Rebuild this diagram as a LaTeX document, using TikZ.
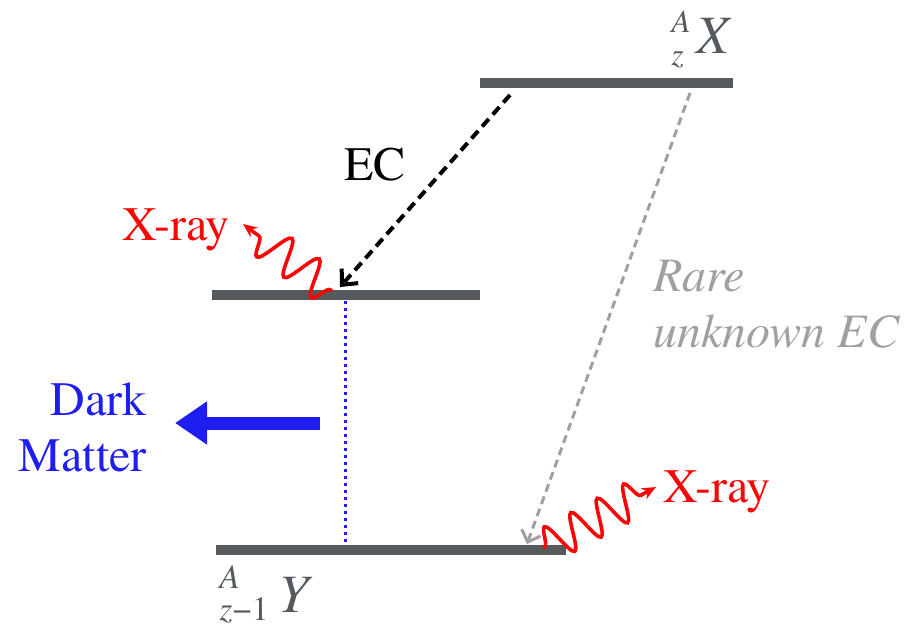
\documentclass[tikz,border=0pt]{standalone}
\usepackage{fontspec}
\setmainfont{texgyretermes}[Extension=.otf, UprightFont=*-regular,
  ItalicFont=*-italic, BoldFont=*-bold, BoldItalicFont=*-bolditalic]
\usetikzlibrary{arrows.meta,decorations.pathmorphing}
\definecolor{levelgray}{RGB}{85,90,95}
\definecolor{xrayred}{RGB}{250,5,5}
\definecolor{dmblue}{RGB}{30,30,240}
\definecolor{raregray}{RGB}{160,160,160}
% mass number over charge, then the element symbol
\newcommand{\nuclide}[5]{{\begin{tabular}[b]{@{}l@{}}\textit{#1}\\#2\end{tabular}}%
  \hspace{#5}\raisebox{#4}{\fontsize{27}{27}\selectfont\itshape #3}}

\begin{document}
\begin{tikzpicture}[x=0.5pt, y=-0.5pt,
    level/.style={line width=5pt, levelgray},
    nuc/.style={levelgray, anchor=base west, inner sep=0pt},
    xray/.style={xrayred, line width=1.8pt, -{Stealth[length=7pt,width=6pt]},
      decorate, decoration={snake, amplitude=9pt, segment length=17pt,
      pre length=1pt, post length=5pt}},
    lbl/.style={font=\fontsize{24}{28}\selectfont}]
\useasboundingbox (0,0) rectangle (910,629);

%% ── energy levels ──────────────────────────────────────────────
\coordinate (xl) at (480,83);  \coordinate (xr) at (733,83);
\coordinate (ml) at (212,295); \coordinate (mr) at (480,295);
\coordinate (yl) at (216,550); \coordinate (yr) at (566,550);
\draw[level] (xl) -- (xr);
\draw[level] (ml) -- (mr);
\draw[level] (yl) -- (yr);

% nuclide labels
\node[nuc, font=\fontsize{16}{16.5}\selectfont] (xname) at (671,65)
  {\nuclide{A}{\textit{z}}{X}{6pt}{3pt}};
\node[nuc, font=\fontsize{17}{14}\selectfont] (yname) at (219,620)
  {\nuclide{A}{\textit{z}−1}{Y}{4pt}{5pt}};

%% ── EC: X -> excited Y ─────────────────────────────────────────
\coordinate (ecstart) at (510,95);
\coordinate (ecend)   at (340,287);
\draw[line width=2pt, dash pattern=on 5pt off 3pt,
      -{Straight Barb[length=6pt,width=11pt]}] (ecstart) -- (ecend);
\node[lbl] (eclabel) at (375,165) {EC};

% X-ray from the middle level
\coordinate (xray1s) at (332,291);
\coordinate (xray1e) at (243,224);
\draw[xray] (xray1s) -- (xray1e);
\node[lbl, xrayred] (xray1) at (176,230) {X-ray};

%% ── dark matter transition ─────────────────────────────────────
\coordinate (dmtop) at (345,301);
\coordinate (dmbot) at (345,545);
\draw[dmblue, line width=1.5pt, dash pattern=on 1.5pt off 2pt] (dmtop) -- (dmbot);
\coordinate (dmstart) at (320,423);
\coordinate (dmend)   at (175,423);
\draw[dmblue, line width=6.5pt, -{Triangle[length=16pt,width=20.5pt]}]
  (dmstart) -- (dmend);
\node[lbl, dmblue, align=right, anchor=east] (dmlabel) at (154,427)
  {Dark\\Matter};

%% ── rare unknown EC: X -> ground Y ─────────────────────────────
\coordinate (rarestart) at (690,93);
\coordinate (rareend)   at (527,544);
\draw[raregray, line width=1.5pt, dash pattern=on 4pt off 2.5pt,
      -{Straight Barb[length=5pt,width=10pt]}] (rarestart) -- (rareend);
\node[lbl, raregray, font=\fontsize{24}{28}\selectfont\itshape,
      align=left, anchor=west] (rarelabel) at (646,304)
  {Rare\\unknown EC};

% X-ray from the ground level
\coordinate (xray2s) at (543,548);
\coordinate (xray2e) at (656,487);
\draw[xray, decoration={segment length=15pt}] (xray2s) -- (xray2e);
\node[lbl, xrayred] (xray2) at (717,492) {X-ray};

\end{tikzpicture}
\end{document}
